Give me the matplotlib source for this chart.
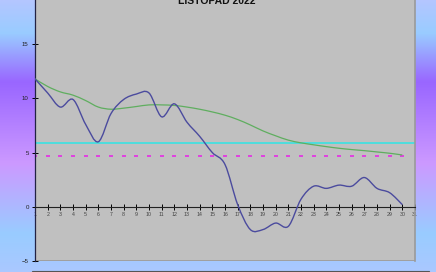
import numpy as np
import matplotlib
matplotlib.use('Agg')
import matplotlib.pyplot as plt
from matplotlib.colors import LinearSegmentedColormap
from matplotlib.path import Path
from matplotlib.patches import PathPatch, Rectangle

plt.rcParams['font.family'] = ['Liberation Sans', 'DejaVu Sans']

# data
days = list(range(1, 31))
temp = [11.8, 10.5, 9.2, 9.9, 7.6, 6.0, 8.6, 9.9, 10.4, 10.5,
        8.3, 9.5, 7.8, 6.5, 5.0, 3.9, 0.2, -2.1, -2.1, -1.5,
        -1.8, 0.7, 1.9, 1.7, 2.0, 1.9, 2.7, 1.7, 1.3, 0.2]
trend = [11.8, 11.1, 10.6, 10.3, 9.8, 9.2, 9.0, 9.1, 9.25, 9.4,
         9.4, 9.35, 9.2, 9.0, 8.75, 8.45, 8.05, 7.55, 7.0, 6.55,
         6.15, 5.9, 5.72, 5.55, 5.4, 5.28, 5.18, 5.06, 4.94, 4.78]
normal = 5.87
month_avg = 4.72
title = 'LISTOPAD 2022'
xticks = list(range(1, 32))
yticks = [-5, 0, 5, 10, 15]


def smooth_path(xs, ys):
    # excel-style smoothed line: cubic bezier through every point
    p = np.column_stack([xs, ys]).astype(float)
    ext = np.vstack([p[0], p, p[-1]])
    verts = [p[0]]
    codes = [Path.MOVETO]
    for i in range(len(p) - 1):
        a, b, c, d = ext[i], ext[i + 1], ext[i + 2], ext[i + 3]
        verts += [b + (c - a) / 6, c - (d - b) / 6, c]
        codes += [Path.CURVE4] * 3
    return Path(verts, codes)


fig = plt.figure(figsize=(4.36, 2.72), dpi=100)

# gradient background
bg = fig.add_axes([0, 0, 1, 1], zorder=0)
cmap = LinearSegmentedColormap.from_list('bg', [
    (0.0, '#b4c6ff'), (0.12, '#99ccff'), (0.30, '#9966ff'),
    (0.60, '#cc99ff'), (0.86, '#99ccff'), (1.0, '#aac8ff')])
bg.imshow(np.linspace(0, 1, 256).reshape(-1, 1), aspect='auto', cmap=cmap,
          extent=[0, 1, 0, 1])
bg.set_axis_off()

ax = fig.add_axes([35 / 436, 11 / 272, 380 / 436, 271 / 272], zorder=1)
ax.set_facecolor('#c0c0c0')
ax.set_xlim(1, 31)
ax.set_ylim(-5, 20)

ax.add_patch(PathPatch(smooth_path(days, trend), fill=False,
                       edgecolor='#5fae5f', lw=0.9, zorder=3))
ax.add_patch(PathPatch(smooth_path(days, temp), fill=False,
                       edgecolor='#4b4b9e', lw=1.0, zorder=4))
ax.plot([1, 31], [normal, normal], color='#44e0e0', lw=1.3, zorder=2)
ax.plot(days, [month_avg] * len(days), ls='none', marker='_',
        ms=3.0, mew=1.4, color='#e040e0', zorder=2)
ax.axhline(-5, color='#9a9a9a', lw=1.2, zorder=1)

ax.spines['bottom'].set_position(('data', 0))
ax.spines['bottom'].set_color('#222222')
ax.spines['bottom'].set_linewidth(0.8)
ax.spines['left'].set_color('#222244')
ax.spines['left'].set_linewidth(0.9)
ax.spines['right'].set_color('#9a9a9a')
ax.spines['right'].set_linewidth(1.2)
ax.spines['top'].set_visible(False)

ax.set_xticks(xticks)
ax.set_xticklabels([str(t) for t in xticks])
ax.set_yticks(yticks)
ax.tick_params(axis='x', direction='inout', length=4, width=0.7,
               labelsize=3.8, labelcolor='#444444', pad=1.5)
ax.tick_params(axis='y', direction='inout', length=4, width=0.7,
               labelsize=4.4, labelcolor='#222222', pad=2.5)

fig.text(217 / 436, 1 - 4 / 272, title, ha='center', va='baseline',
         fontsize=7.5, fontweight='bold', color='#111111', zorder=5)

# legend box, cut off at the bottom edge
fig.patches.append(Rectangle((32 / 436, -0.05), 397 / 436, 0.05 + 1.5 / 272,
                             transform=fig.transFigure, facecolor='white',
                             edgecolor='#555555', lw=0.8, zorder=5))

fig.savefig('out.png', dpi=100)
